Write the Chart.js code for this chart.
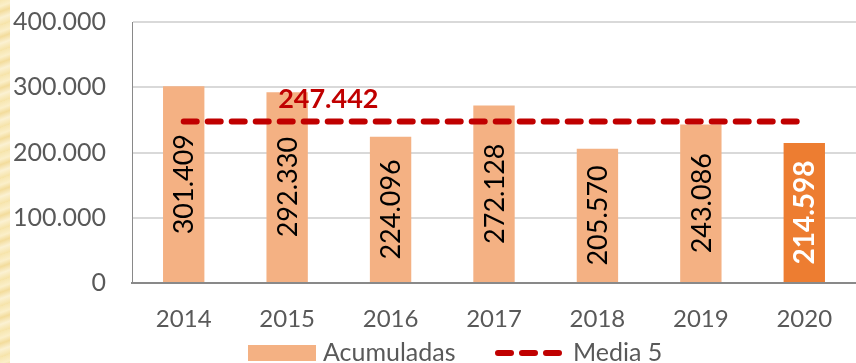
<!DOCTYPE html>
<html>
<head>
<meta charset="utf-8">
<script src="https://cdn.jsdelivr.net/npm/chart.js@4.4.1/dist/chart.umd.min.js"></script>
<style>
  html, body { margin: 0; padding: 0; background: #fff; }
  #wrap { position: relative; width: 856px; height: 363px; overflow: hidden; }
  /* marble strip on the left edge */
  #strip {
    position: absolute; left: 0; top: 0; width: 10px; height: 363px;
    background: repeating-linear-gradient(160deg, #f7e6b0 0px, #fbefc9 6px, #f3dc9c 11px, #fbf1d2 17px, #f6e3a8 24px);
  }
  canvas { position: absolute; left: 0; top: 0; }
</style>
</head>
<body>
<div id="wrap">
  <div id="strip"></div>
  <canvas id="myChart" width="856" height="363"></canvas>
</div>
<script>
// Data
const years = ['2014', '2015', '2016', '2017', '2018', '2019', '2020'];
const acumuladas = [301409, 292330, 224096, 272128, 205570, 243086, 214598];
const media5 = [247442, 247442, 247442, 247442, 247442, 247442, 247442];
const yTicks = [0, 100000, 200000, 300000, 400000];

const lightOrange = '#F4B183';
const darkOrange = '#ED7D31';
const lineRed = '#C00000';
const textGray = '#595959';
const font = 'Lato, "Open Sans", sans-serif';

// 301409 -> "301.409"
function fmt(v) {
  return String(v).replace(/\B(?=(\d{3})+(?!\d))/g, '.');
}

const barColors = acumuladas.map((v, i) => i == acumuladas.length - 1 ? darkOrange : lightOrange);

// Value labels inside the bars, the average label and the legend
const labelsPlugin = {
  id: 'labels',
  afterDatasetsDraw(chart) {
    const ctx = chart.ctx;
    const bars = chart.getDatasetMeta(0).data;
    bars.forEach((bar, i) => {
      const last = i == bars.length - 1;
      const midY = (bar.y + bar.base) / 2;
      ctx.save();
      ctx.translate(bar.x, midY);
      ctx.rotate(-Math.PI / 2);
      ctx.textAlign = 'center';
      ctx.textBaseline = 'middle';
      ctx.fillStyle = last ? '#ffffff' : '#000000';
      ctx.font = (last ? 'bold 28px ' : '27px ') + font;
      ctx.fillText(fmt(acumuladas[i]), 0, 1);
      ctx.restore();
    });

    // average value above the dashed line
    const pts = chart.getDatasetMeta(1).data;
    ctx.save();
    ctx.fillStyle = lineRed;
    ctx.font = 'bold 27px ' + font;
    ctx.textAlign = 'left';
    ctx.textBaseline = 'alphabetic';
    ctx.fillText(fmt(media5[1]), pts[1].x - 9, pts[1].y - 14);
    ctx.restore();
  },
  afterDraw(chart) {
    const ctx = chart.ctx;
    ctx.save();
    ctx.font = '25px ' + font;
    ctx.textBaseline = 'alphabetic';
    // bar entry
    ctx.fillStyle = lightOrange;
    ctx.fillRect(248, 345, 68, 16);
    ctx.fillStyle = textGray;
    ctx.fillText('Acumuladas', 323, 361);
    // dashed line entry
    ctx.strokeStyle = lineRed;
    ctx.lineWidth = 6;
    ctx.lineCap = 'round';
    ctx.setLineDash([13, 11]);
    ctx.beginPath();
    ctx.moveTo(498, 353);
    ctx.lineTo(560, 353);
    ctx.stroke();
    ctx.setLineDash([]);
    ctx.fillText('Media 5', 573, 361);
    ctx.restore();
  }
};

const ctx = document.getElementById('myChart');

const myChart = new Chart(ctx, {
  data: {
    labels: years,
    datasets: [{
      type: 'bar',
      label: 'Acumuladas',
      data: acumuladas,
      backgroundColor: barColors,
      barPercentage: 0.4,
      categoryPercentage: 1,
      order: 2
    }, {
      type: 'line',
      label: 'Media 5',
      data: media5,
      borderColor: lineRed,
      borderWidth: 6,
      borderDash: [13, 11],
      borderCapStyle: 'round',
      pointRadius: 0,
      fill: false,
      order: 1
    }]
  },
  options: {
    responsive: false,
    animation: false,
    layout: { padding: { top: 22, left: 0, right: 0, bottom: 0 } },
    plugins: {
      legend: { display: false },
      tooltip: { enabled: false }
    },
    scales: {
      x: {
        grid: { display: false, drawTicks: false },
        border: { color: '#898989', width: 2 },
        ticks: { color: textGray, font: { family: font, size: 24 }, padding: 22 },
        afterFit(scale) { scale.height = 80; }
      },
      y: {
        min: 0,
        max: 400000,
        afterBuildTicks(scale) { scale.ticks = yTicks.map(v => ({ value: v })); },
        grid: { color: '#D9D9D9', lineWidth: 2, drawTicks: false },
        border: { color: '#898989', width: 1 },
        ticks: {
          color: textGray,
          font: { family: font, size: 25 },
          padding: 26,
          callback: v => fmt(v)
        },
        afterFit(scale) {
          scale.width = 132;
          // keep the top/bottom label overhang out of the layout
          scale.paddingTop = 0;
          scale.paddingBottom = 0;
        }
      }
    }
  },
  plugins: [labelsPlugin]
});
</script>
</body>
</html>
